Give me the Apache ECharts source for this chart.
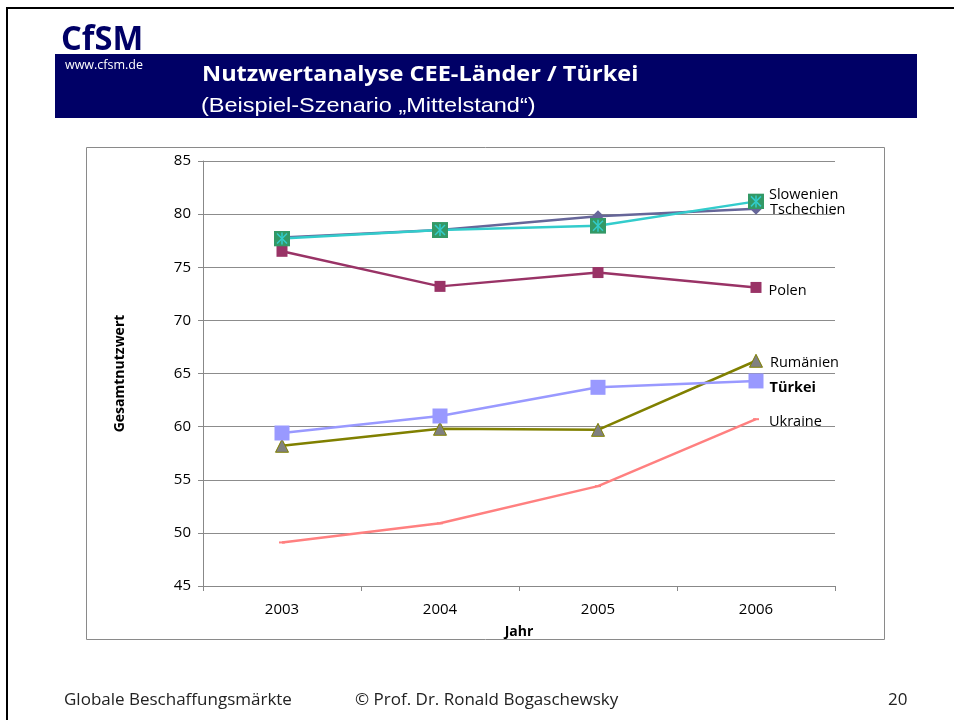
<!DOCTYPE html>
<html>
<head>
<meta charset="utf-8">
<title>Nutzwertanalyse CEE-Länder / Türkei</title>
<script src="https://cdn.jsdelivr.net/npm/echarts@6/dist/echarts.min.js"></script>
<style>
    html, body { margin: 0; padding: 0; background: #fff; }
    #main { width: 954px; height: 720px; }
</style>
</head>
<body>
<div id="main"></div>
<script>
// Jahre (x-Achse)
var years = ['2003', '2004', '2005', '2006'];
// y-Achse
var yMin = 45, yMax = 85, yStep = 5;

// Gesamtnutzwert je Land
var slowenien = [77.7, 78.5, 78.9, 81.2];
var tschechien = [77.8, 78.5, 79.8, 80.5];
var polen = [76.5, 73.2, 74.5, 73.1];
var rumaenien = [58.2, 59.8, 59.7, 66.2];
var tuerkei = [59.4, 61.0, 63.7, 64.3];
var ukraine = [49.1, 50.9, 54.4, 60.7];

var chartFont = 'Open Sans';

// grünes Quadrat mit türkisem Stern (Excel-Marker)
var starSquare = 'image://data:image/svg+xml;charset=utf-8,' + encodeURIComponent(
    '<svg xmlns="http://www.w3.org/2000/svg" width="16" height="16" viewBox="0 0 16 16">' +
    '<rect x="0" y="0" width="16" height="16" fill="#339966"/>' +
    '<g stroke="#33CCCC" stroke-width="1.5">' +
    '<line x1="8" y1="2" x2="8" y2="14"/><line x1="3" y1="3" x2="13" y2="13"/>' +
    '<line x1="13" y1="3" x2="3" y2="13"/></g></svg>');

// letzter Punkt bekommt den Ländernamen
function withEndLabel(values, name, dist, dy, bold) {
    return values.map(function (v, i) {
        if (i !== values.length - 1) return v;
        return {
            value: v,
            label: {
                show: true,
                formatter: name,
                position: 'right',
                distance: dist,
                offset: [0, dy],
                color: '#000',
                fontFamily: chartFont,
                fontSize: 14.5,
                fontWeight: bold ? 'bold' : 'normal'
            }
        };
    });
}

function lineSeries(name, values, color, extra) {
    var s = {
        name: name,
        type: 'line',
        data: values,
        lineStyle: {color: color, width: 2.5},
        itemStyle: {color: color},
        z: 3
    };
    for (var k in extra) s[k] = extra[k];
    return s;
}

var myChart = echarts.init(document.getElementById('main'), null, {renderer: 'canvas'});

var option = {
    animation: false,
    backgroundColor: '#fff',
    grid: {left: 203, top: 161, right: 119, bottom: 134, containLabel: false},
    xAxis: {
        type: 'category',
        data: years,
        boundaryGap: true,
        name: 'Jahr',
        nameLocation: 'middle',
        nameGap: 39,
        nameTextStyle: {color: '#000', fontFamily: chartFont, fontSize: 14, fontWeight: 'bold'},
        axisLine: {lineStyle: {color: '#888', width: 1}},
        axisTick: {show: true, length: 5, inside: false, lineStyle: {color: '#888'}},
        axisLabel: {color: '#000', fontFamily: chartFont, fontSize: 15, margin: 16}
    },
    yAxis: {
        type: 'value',
        min: yMin,
        max: yMax,
        interval: yStep,
        name: 'Gesamtnutzwert',
        nameLocation: 'middle',
        nameGap: 76,
        nameRotate: 90,
        nameTextStyle: {color: '#000', fontFamily: chartFont, fontSize: 14, fontWeight: 'bold'},
        axisLine: {show: true, lineStyle: {color: '#888', width: 1}},
        axisTick: {show: true, length: 5, inside: false, lineStyle: {color: '#888'}},
        axisLabel: {color: '#000', fontFamily: chartFont, fontSize: 15, margin: 12},
        splitLine: {lineStyle: {color: '#8c8c8c', width: 1}}
    },
    series: [
        lineSeries('Tschechien', withEndLabel(tschechien, 'Tschechien', 8, 1), '#666699', {
            symbol: 'diamond', symbolSize: 12
        }),
        lineSeries('Slowenien', withEndLabel(slowenien, 'Slowenien', 5, -7), '#33CCCC', {
            symbol: starSquare, symbolSize: 16, z: 4
        }),
        lineSeries('Polen', withEndLabel(polen, 'Polen', 7, 3), '#993366', {
            symbol: 'rect', symbolSize: 11
        }),
        lineSeries('Rumänien', withEndLabel(rumaenien, 'Rumänien', 7, 2), '#808000', {
            symbol: 'triangle', symbolSize: 13,
            itemStyle: {color: '#808080', borderColor: '#808000', borderWidth: 1}
        }),
        lineSeries('Türkei', withEndLabel(tuerkei, 'Türkei', 6, 7, true), '#9999FF', {
            symbol: 'rect', symbolSize: 15
        }),
        lineSeries('Ukraine', withEndLabel(ukraine, 'Ukraine', 10, 3), '#FF8080', {
            symbol: 'rect', symbolSize: [6, 2]
        })
    ],
    graphic: [
        // Folienrahmen
        {type: 'line', shape: {x1: 6, y1: 8, x2: 954, y2: 8}, style: {stroke: '#000', lineWidth: 2}, silent: true},
        {type: 'line', shape: {x1: 7, y1: 8, x2: 7, y2: 720}, style: {stroke: '#000', lineWidth: 2}, silent: true},
        // Kopfbalken
        {type: 'rect', shape: {x: 55, y: 54, width: 862, height: 64}, style: {fill: '#000066'}, silent: true},
        {type: 'text', x: 61, y: 23, scaleX: 0.96, style: {text: 'CfSM', fill: '#000066', font: 'bold 34px "Open Sans"'}},
        {type: 'text', x: 65, y: 59, style: {text: 'www.cfsm.de', fill: '#fff', font: '12.5px "Open Sans"'}},
        {type: 'text', x: 202, y: 64, scaleX: 1.07, style: {text: 'Nutzwertanalyse CEE-Länder / Türkei', fill: '#fff', font: 'bold 22px "Open Sans"'}},
        {type: 'text', x: 201, y: 96, scaleX: 1.12, style: {text: '(Beispiel-Szenario „Mittelstand“)', fill: '#fff', font: '21px "Liberation Sans"'}},
        // Diagrammrahmen
        {type: 'rect', shape: {x: 86.5, y: 147.5, width: 798, height: 492}, style: {fill: 'none', stroke: '#8a8a8a', lineWidth: 1}, silent: true, z: -1},
        // Fußzeile
        {type: 'text', x: 64, y: 692, style: {text: 'Globale Beschaffungsmärkte', fill: '#222', font: '17px "Open Sans"'}},
        {type: 'text', x: 355, y: 692, style: {text: '© Prof. Dr. Ronald Bogaschewsky', fill: '#222', font: '17px "Open Sans"'}},
        {type: 'text', x: 888, y: 692, style: {text: '20', fill: '#222', font: '17px "Open Sans"'}}
    ]
};

myChart.setOption(option);
</script>
</body>
</html>
